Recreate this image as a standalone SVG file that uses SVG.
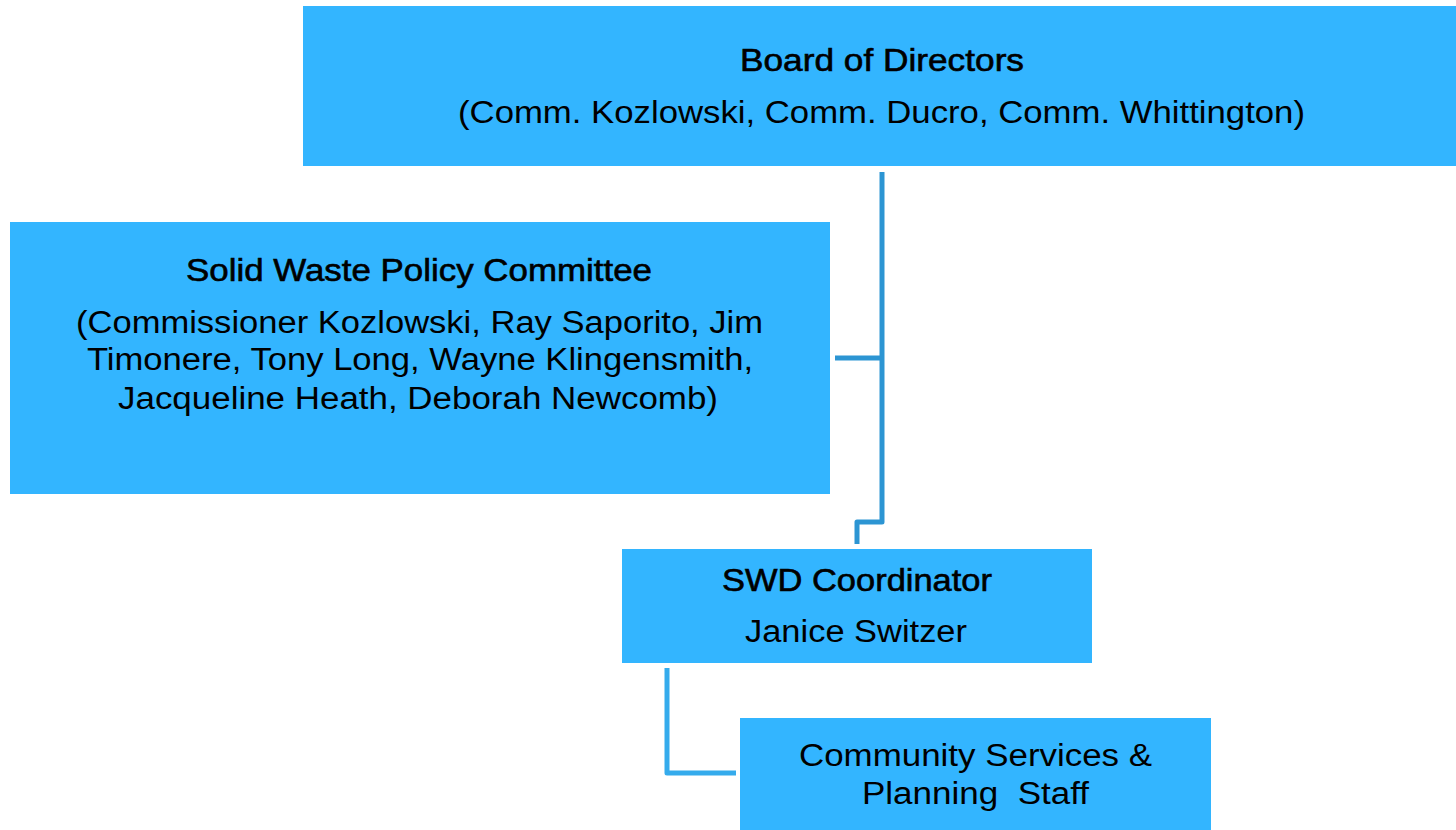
<svg xmlns="http://www.w3.org/2000/svg" width="1456" height="830" viewBox="0 0 1456 830">
<style>
.box{fill:#33B5FF;}
.t{font-family:"Liberation Sans",Arial,sans-serif;font-size:31px;fill:#000;text-anchor:middle;}
.h{stroke:#000;stroke-width:0.6;}
.c{fill:none;stroke:#2C95D3;stroke-width:5;stroke-linejoin:round;}
.c2{fill:none;stroke:#35ABEC;stroke-width:5;stroke-linejoin:round;}
</style>
<rect width="1456" height="830" fill="#fff"/>
<g id="connectors">
<polyline class="c" points="882,172 882,522 857,522 857,544"/>
<line class="c" x1="835" y1="358" x2="882" y2="358"/>
<polyline class="c2" points="667,668 667,773 736,773"/>
</g>
<g id="board">
<rect class="box" x="303" y="6" width="1153" height="160"/>
<text class="t h" x="882" y="71" textLength="284" lengthAdjust="spacingAndGlyphs">Board of Directors</text>
<text class="t" x="881.5" y="123" textLength="847" lengthAdjust="spacingAndGlyphs">(Comm. Kozlowski, Comm. Ducro, Comm. Whittington)</text>
</g>
<g id="policy">
<rect class="box" x="10" y="222" width="820" height="272"/>
<text class="t h" x="419" y="281" textLength="466" lengthAdjust="spacingAndGlyphs">Solid Waste Policy Committee</text>
<text class="t" x="419.5" y="333" textLength="687" lengthAdjust="spacingAndGlyphs">(Commissioner Kozlowski, Ray Saporito, Jim</text>
<text class="t" x="420" y="370" textLength="666" lengthAdjust="spacingAndGlyphs">Timonere, Tony Long, Wayne Klingensmith,</text>
<text class="t" x="418" y="409" textLength="600" lengthAdjust="spacingAndGlyphs">Jacqueline Heath, Deborah Newcomb)</text>
</g>
<g id="coordinator">
<rect class="box" x="622" y="549" width="470" height="114"/>
<text class="t h" x="857" y="591" textLength="270" lengthAdjust="spacingAndGlyphs">SWD Coordinator</text>
<text class="t" x="856" y="642" textLength="222" lengthAdjust="spacingAndGlyphs">Janice Switzer</text>
</g>
<g id="staff">
<rect class="box" x="740" y="718" width="471" height="112"/>
<text class="t" x="975.5" y="766" textLength="353" lengthAdjust="spacingAndGlyphs">Community Services &amp;</text>
<text class="t" x="975.5" y="804" textLength="227" lengthAdjust="spacingAndGlyphs" xml:space="preserve">Planning  Staff</text>
</g>
</svg>
